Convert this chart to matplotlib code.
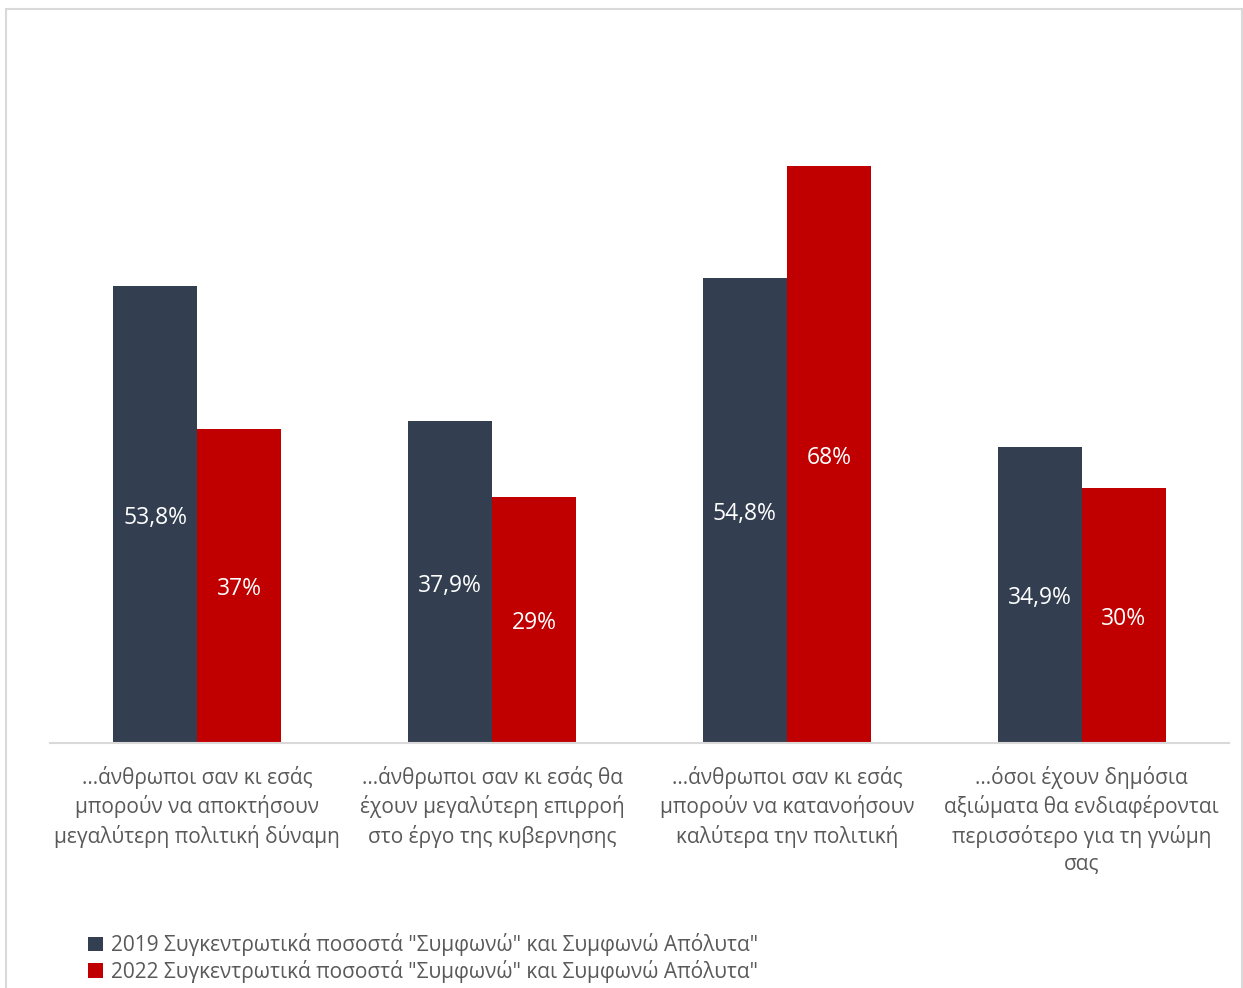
import numpy as np
import matplotlib
matplotlib.use("Agg")
import matplotlib.pyplot as plt
from matplotlib.patches import Rectangle

categories = [
    "...άνθρωποι σαν κι εσάς\nμπορούν να αποκτήσουν\nμεγαλύτερη πολιτική δύναμη",
    "...άνθρωποι σαν κι εσάς θα\nέχουν μεγαλύτερη επιρροή\nστο έργο της κυβερνησης",
    "...άνθρωποι σαν κι εσάς\nμπορούν να κατανοήσουν\nκαλύτερα την πολιτική",
    "...όσοι έχουν δημόσια\nαξιώματα θα ενδιαφέρονται\nπερισσότερο για τη γνώμη\nσας",
]
values_2019 = [53.8, 37.9, 54.8, 34.9]
values_2022 = [37, 29, 68, 30]
labels_2019 = ["53,8%", "37,9%", "54,8%", "34,9%"]
labels_2022 = ["37%", "29%", "68%", "30%"]
series_names = [
    '2019 Συγκεντρωτικά ποσοστά "Συμφωνώ" και Συμφωνώ Απόλυτα"',
    '2022 Συγκεντρωτικά ποσοστά "Συμφωνώ" και Συμφωνώ Απόλυτα"',
]

navy = "#333F50"
red = "#C00000"
grey_text = "#595959"

plt.rcParams["font.family"] = ["Open Sans", "DejaVu Sans"]

W, H = 1243, 988
fig = plt.figure(figsize=(W / 100, H / 100), dpi=100)

# light frame around the chart area
fig.patches.append(Rectangle((6 / W, -0.01), (1242 - 6) / W, (H - 9) / H + 0.01,
                             transform=fig.transFigure, fill=False,
                             edgecolor="#D9D9D9", lw=1.5))

ax_left, ax_right = 50, 1229
ax_bottom, ax_top = 743, 30
ax = fig.add_axes([ax_left / W, 1 - ax_bottom / H,
                   (ax_right - ax_left) / W, (ax_bottom - ax_top) / H])

x = np.arange(len(categories))
width = 0.285
b1 = ax.bar(x - width / 2, values_2019, width, color=navy, label=series_names[0])
b2 = ax.bar(x + width / 2, values_2022, width, color=red, label=series_names[1])

# value labels in the middle of each bar
for rects, labs in ((b1, labels_2019), (b2, labels_2022)):
    for r, lab in zip(rects, labs):
        ax.annotate(lab, (r.get_x() + r.get_width() / 2, r.get_height() / 2),
                    xytext=(0, -2.5), textcoords="offset points",
                    ha="center", va="center", color="white", fontsize=16.5)

px_per_pct = 577 / 68.0
ax.set_xlim(-0.5, len(categories) - 0.5)
ax.set_ylim(0, (ax_bottom - ax_top) / px_per_pct)

for s in ["top", "right", "left"]:
    ax.spines[s].set_visible(False)
ax.spines["bottom"].set_color("#D9D9D9")
ax.spines["bottom"].set_linewidth(1.5)
ax.set_yticks([])
ax.set_xticks(x)
ax.set_xticklabels(categories, fontsize=15, color=grey_text, linespacing=1.36)
ax.tick_params(axis="x", length=0, pad=16.5)

leg = fig.legend(loc="upper left", bbox_to_anchor=(80 / W, 1 - 925 / H),
                 frameon=False, fontsize=15, handlelength=0.7, handleheight=0.7,
                 handletextpad=0.4, labelspacing=0.18, borderaxespad=0)
for t in leg.get_texts():
    t.set_color(grey_text)

fig.savefig("out.png", dpi=100)
